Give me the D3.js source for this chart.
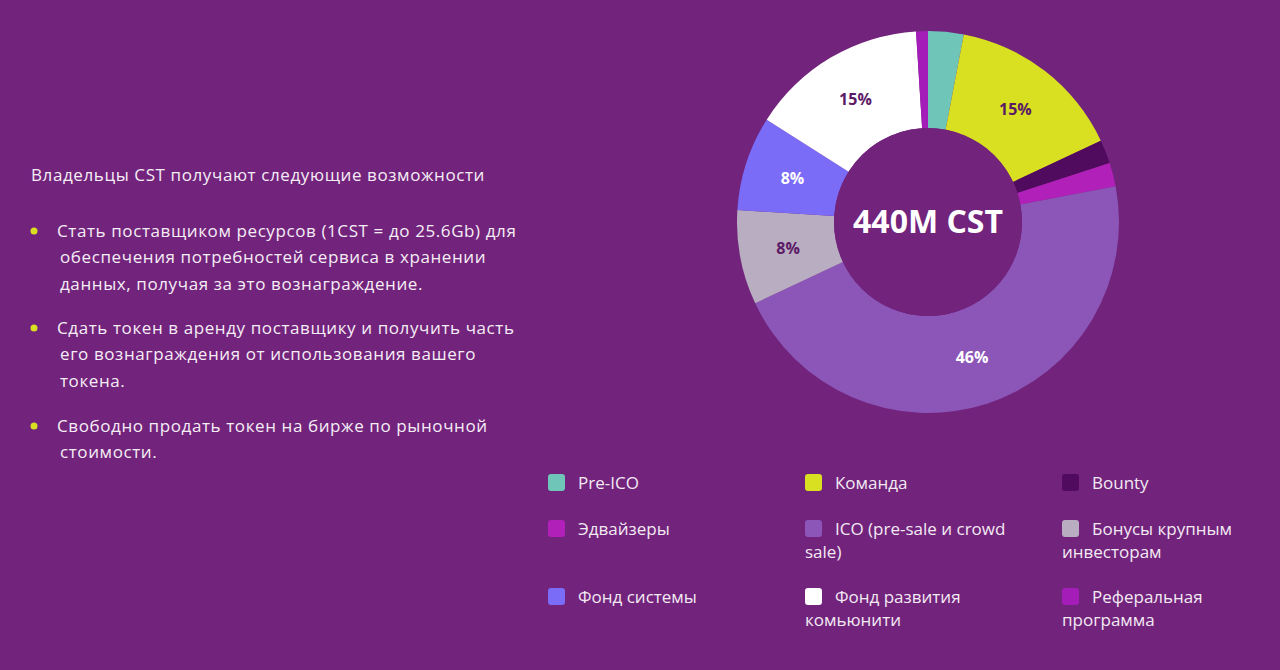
<!DOCTYPE html>
<html>
<head>
<meta charset="utf-8">
<script src="https://cdn.jsdelivr.net/npm/d3@7"></script>
<style>
  html, body { margin: 0; padding: 0; background: #72237b; }
  svg { display: block; font-family: "Open Sans", sans-serif; }
</style>
</head>
<body>
<svg id="chart" width="1280" height="670"></svg>
<script>
// slices, clockwise from 12 o'clock
const names = ['Pre-ICO', 'Команда', 'Bounty', 'Эдвайзеры', 'ICO (pre-sale и crowd sale)',
    'Бонусы крупным инвесторам', 'Фонд системы', 'Фонд развития комьюнити', 'Реферальная программа'];
const shares = [3, 15, 2, 2, 46, 8, 8, 15, 1];
const colors = ['#6fc6b8', '#d8e021', '#500a5e', '#b120b9', '#8c56b8', '#b9adc1', '#7b6cf8', '#ffffff', '#a51db8'];
const labelColors = ['#fff', '#5b1a66', '#fff', '#fff', '#fff', '#5b1a66', '#fff', '#5b1a66', '#fff'];

// legend order (3 columns x 3 rows) and how the long labels wrap
const legendOrder = [0, 1, 2, 3, 4, 5, 6, 7, 8];
const legendLines = [
    ['Pre-ICO'], ['Команда'], ['Bounty'],
    ['Эдвайзеры'], ['ICO (pre-sale и crowd', 'sale)'], ['Бонусы крупным', 'инвесторам'],
    ['Фонд системы'], ['Фонд развития', 'комьюнити'], ['Реферальная', 'программа']
];

const centerLabel = '440M CST';
const heading = 'Владельцы CST получают следующие возможности';
const bullets = [
    ['Стать поставщиком ресурсов (1CST = до 25.6Gb) для', 'обеспечения потребностей сервиса в хранении', 'данных, получая за это вознаграждение.'],
    ['Сдать токен в аренду поставщику и получить часть', 'его вознаграждения от использования вашего', 'токена.'],
    ['Свободно продать токен на бирже по рыночной', 'стоимости.']
];

const svg = d3.select('#chart');
svg.append('rect').attr('width', 1280).attr('height', 670).attr('fill', '#72237b');

// ---- donut ----
const cx = 928, cy = 222, outerR = 191, innerR = 94;
const pie = d3.pie().sort(null).value(d => d);
const arc = d3.arc().innerRadius(innerR).outerRadius(outerR);
const arcs = pie(shares);

const g = svg.append('g').attr('transform', `translate(${cx},${cy})`);
g.selectAll('path.slice')
    .data(arcs)
    .enter().append('path')
    .attr('class', 'slice')
    .attr('d', arc)
    .attr('fill', (d, i) => colors[i]);

g.append('circle').attr('r', innerR).attr('fill', '#72237b');

g.selectAll('text.pct')
    .data(arcs.filter(d => d.data >= 5))
    .enter().append('text')
    .attr('class', 'pct')
    .attr('transform', d => `translate(${arc.centroid(d)})`)
    .attr('text-anchor', 'middle')
    .attr('dy', '0.35em')
    .attr('font-size', 16)
    .attr('font-weight', 700)
    .attr('fill', d => labelColors[d.index])
    .text(d => d.data + '%');

g.append('text')
    .attr('text-anchor', 'middle')
    .attr('dy', '0.35em')
    .attr('font-size', 32)
    .attr('font-weight', 700)
    .attr('fill', '#fff')
    .text(centerLabel);

// ---- legend ----
const colX = [548, 805, 1062];
const rowY = [483, 529, 597];
const lineH = 23;
const legend = svg.append('g');
legendOrder.forEach((idx, k) => {
    const x = colX[k % 3], y = rowY[Math.floor(k / 3)];
    const item = legend.append('g');
    item.append('rect')
        .attr('x', x).attr('y', y - 9)
        .attr('width', 17).attr('height', 17).attr('rx', 3)
        .attr('fill', colors[idx]);
    legendLines[k].forEach((line, j) => {
        item.append('text')
            .attr('x', j === 0 ? x + 30 : x)
            .attr('y', y + j * lineH)
            .attr('dy', '0.35em')
            .attr('font-size', 17)
            .attr('fill', '#f3eaf4')
            .text(line);
    });
});

// ---- left text ----
const left = svg.append('g').attr('fill', '#f5eef6').attr('font-size', 17).attr('letter-spacing', 0.6);
left.append('text').attr('x', 31).attr('y', 175).attr('dy', '0.35em').text(heading);

const bulletY = [231, 328, 426];
const bulletLineH = 26.5;
bullets.forEach((lines, i) => {
    left.append('circle').attr('cx', 34).attr('cy', bulletY[i]).attr('r', 3.5).attr('fill', '#d8e021');
    lines.forEach((line, j) => {
        left.append('text')
            .attr('x', j === 0 ? 57 : 60)
            .attr('y', bulletY[i] + j * bulletLineH)
            .attr('dy', '0.35em')
            .text(line);
    });
});
</script>
</body>
</html>
